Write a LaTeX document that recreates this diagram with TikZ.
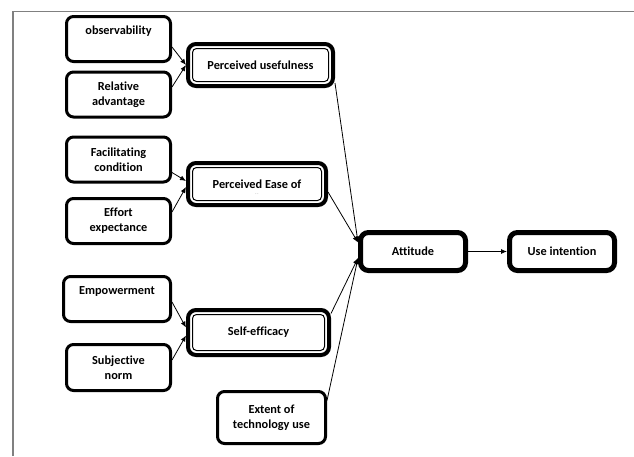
\documentclass[tikz,border=0pt]{standalone}
\usepackage{fontspec}
\setmainfont{Carlito}[Ligatures={NoCommon}]
\usetikzlibrary{arrows.meta}
\begin{document}
\begin{tikzpicture}[x=1pt,y=-1pt,
  every node/.style={font=\fontsize{12.3}{15}\selectfont\bfseries, align=center, inner sep=0pt},
  box/.style={draw, line width=3pt, rounded corners=7pt, minimum width=104pt, minimum height=45pt},
  dbox/.style={draw, line width=4pt, rounded corners=8pt},
  tbox/.style={draw, line width=5pt, rounded corners=8pt, minimum width=105pt, minimum height=38pt},
  inner/.style={line width=1pt, rounded corners=4pt},
  conn/.style={line width=0.8pt, -{Latex[length=6pt,width=5pt]}}
]
\useasboundingbox (0,0) rectangle (634,456);
\draw[gray, line width=1.5pt] (13,456) -- (13,11.5) -- (634,11.5);

% left boxes
\node[box] (obs) at (118.5,39) {observability\\\phantom{g}};
\node[box] (rel) at (118.5,94.5) {Relative\\advantage};
\node[box] (fac) at (118.5,159.5) {Facilitating\\condition};
\node[box] (eff) at (118.5,221) {Effort\\expectance};
\node[box, minimum width=107pt] (emp) at (117,299) {Empowerment\\\phantom{g}};
\node[box, minimum height=46pt] (sub) at (118.5,367.5) {Subjective\\norm};
\node[box, minimum width=108pt, minimum height=52pt] (ext) at (271.5,417.5) {Extent of\\technology use};

% double boxes
\node[dbox, minimum width=145pt, minimum height=42pt] (pu) at (260.5,65) {Perceived usefulness};
\draw[inner] ([shift={(6.5pt,6.5pt)}]pu.south west) rectangle ([shift={(-6.5pt,-6.5pt)}]pu.north east);
\node[dbox, minimum width=138pt, minimum height=42pt] (peou) at (257,184) {Perceived Ease of};
\draw[inner] ([shift={(6.5pt,6.5pt)}]peou.south west) rectangle ([shift={(-6.5pt,-6.5pt)}]peou.north east);
\node[font=\tiny, text=gray] (dots) at (257,194) {.\,.};
\node[dbox, minimum width=141pt, minimum height=45pt] (se) at (258.5,332.5) {Self-efficacy};
\draw[inner] ([shift={(6.5pt,6.5pt)}]se.south west) rectangle ([shift={(-6.5pt,-6.5pt)}]se.north east);

% right boxes
\node[tbox] (att) at (413,251.5) {Attitude};
\node[tbox] (ui) at (562,251.5) {Use intention};

% connectors
\draw[conn] ([yshift=-8pt]obs.east) -- (pu.west);
\draw[conn] ([yshift=7.5pt]rel.east) -- (pu.west);
\draw[conn] ([yshift=-13pt]fac.east) -- ([yshift=3pt]peou.west);
\draw[conn] ([yshift=9pt]eff.east) -- ([yshift=-3pt]peou.west);
\draw[conn] ([yshift=-3pt]emp.east) -- ([yshift=5pt]se.west);
\draw[conn] ([yshift=7.5pt]sub.east) -- ([yshift=-3pt]se.west);

\draw[conn] ([yshift=-18pt]pu.east) -- ([yshift=9pt]att.west);
\draw[conn] ([yshift=-8pt]peou.east) -- ([yshift=9pt]att.west);
\draw[conn] ([yshift=19pt]se.east) -- ([yshift=-6.5pt]att.west);
\draw[conn] ([yshift=17pt]ext.east) -- ([yshift=-6.5pt]att.west);

\draw[conn] (att.east) -- (ui.west);
\end{tikzpicture}
\end{document}
